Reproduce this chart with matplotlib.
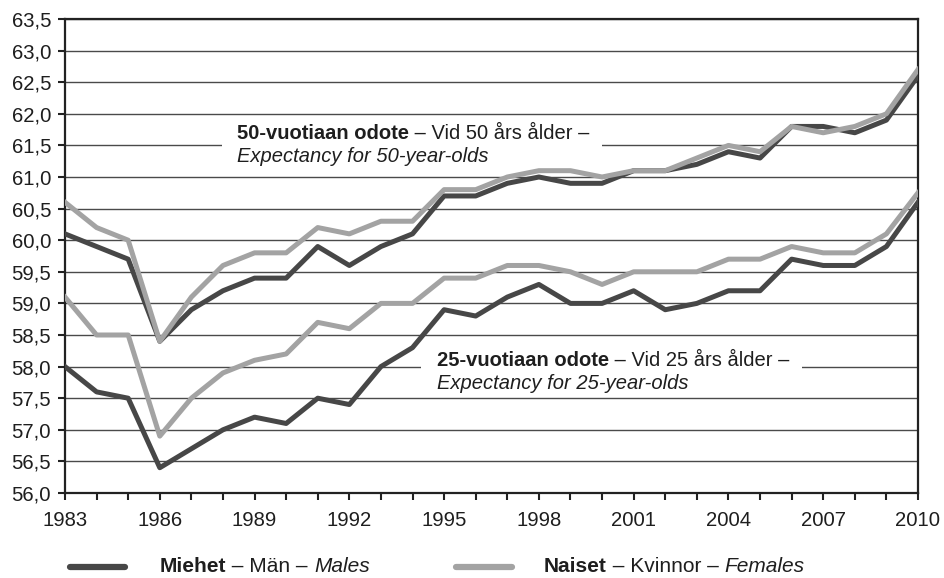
import numpy as np
import matplotlib.pyplot as plt
from matplotlib.patches import Rectangle
from matplotlib.lines import Line2D

plt.rcParams['font.family'] = ['Liberation Sans', 'DejaVu Sans']

years = list(range(1983, 2011))

# life expectancy at age 50 (total years)
male_50 = [60.1, 59.9, 59.7, 58.4, 58.9, 59.2, 59.4, 59.4, 59.9, 59.6,
           59.9, 60.1, 60.7, 60.7, 60.9, 61.0, 60.9, 60.9, 61.1, 61.1,
           61.2, 61.4, 61.3, 61.8, 61.8, 61.7, 61.9, 62.6]
female_50 = [60.6, 60.2, 60.0, 58.4, 59.1, 59.6, 59.8, 59.8, 60.2, 60.1,
             60.3, 60.3, 60.8, 60.8, 61.0, 61.1, 61.1, 61.0, 61.1, 61.1,
             61.3, 61.5, 61.4, 61.8, 61.7, 61.8, 62.0, 62.7]

# life expectancy at age 25 (total years)
male_25 = [58.0, 57.6, 57.5, 56.4, 56.7, 57.0, 57.2, 57.1, 57.5, 57.4,
           58.0, 58.3, 58.9, 58.8, 59.1, 59.3, 59.0, 59.0, 59.2, 58.9,
           59.0, 59.2, 59.2, 59.7, 59.6, 59.6, 59.9, 60.6]
female_25 = [59.1, 58.5, 58.5, 56.9, 57.5, 57.9, 58.1, 58.2, 58.7, 58.6,
             59.0, 59.0, 59.4, 59.4, 59.6, 59.6, 59.5, 59.3, 59.5, 59.5,
             59.5, 59.7, 59.7, 59.9, 59.8, 59.8, 60.1, 60.75]

yticks = np.arange(56.0, 63.51, 0.5)
xlabel_years = list(range(1983, 2011, 3))

DARK = '#474747'
LIGHT = '#a3a3a3'
TXT = '#1e1e1e'
FS = 14.6

fig = plt.figure(figsize=(9.45, 5.78), dpi=100)
ax = fig.add_axes([65 / 945, 85 / 578, 853 / 945, 474 / 578])

ax.plot(years, male_50, color=DARK, lw=3.6, zorder=3)
ax.plot(years, female_50, color=LIGHT, lw=3.6, zorder=4)
ax.plot(years, male_25, color=DARK, lw=3.6, zorder=3)
ax.plot(years, female_25, color=LIGHT, lw=3.6, zorder=4)

ax.set_xlim(1983, 2010)
ax.set_ylim(56.0, 63.5)
ax.set_yticks(yticks)
ax.set_yticklabels([f'{v:.1f}'.replace('.', ',') for v in yticks])
ax.set_xticks(xlabel_years)
ax.set_xticks(years, minor=True)
ax.set_xticklabels([str(y) for y in xlabel_years])
ax.yaxis.grid(True, color='#4a4a4a', lw=1.0)
ax.set_axisbelow(True)
ax.tick_params(axis='both', which='both', direction='out', length=5,
               width=1.5, color='#222222', labelsize=FS, labelcolor=TXT)
ax.tick_params(axis='x', pad=8)
ax.tick_params(axis='y', pad=5)
for s in ax.spines.values():
    s.set_color('#222222')
    s.set_linewidth(1.6)

# white patches behind the annotation text (interrupt the gridlines)
ax.add_patch(Rectangle((1987.97, 61.14), 12.03, 0.73, facecolor='white',
                       edgecolor='none', zorder=1.5))
ax.add_patch(Rectangle((1994.27, 57.56), 12.06, 0.84, facecolor='white',
                       edgecolor='none', zorder=1.5))


def rich_text(x, y, parts, transform, va='baseline', size=14.5):
    t = ax.text(x, y, parts[0][0], transform=transform, va=va, ha='left',
                fontsize=size, color=TXT, **parts[0][1])
    for s, kw in parts[1:]:
        t = ax.annotate(s, xy=(1, 0), xycoords=t, va='bottom', ha='left',
                        fontsize=size, color=TXT, **kw)
    return t


rich_text(1988.44, 61.60, [('50-vuotiaan odote', dict(weight='bold')),
                           (' \u2013 Vid 50 \u00e5rs \u00e5lder \u2013', {})],
          ax.transData)
ax.text(1988.44, 61.24, 'Expectancy for 50-year-olds', style='italic',
        fontsize=14.5, color=TXT, va='baseline')

rich_text(1994.78, 58.01, [('25-vuotiaan odote', dict(weight='bold')),
                           (' \u2013 Vid 25 \u00e5rs \u00e5lder \u2013', {})],
          ax.transData)
ax.text(1994.78, 57.65, 'Expectancy for 25-year-olds', style='italic',
        fontsize=14.5, color=TXT, va='baseline')

# legend drawn by hand (mixed font styles)
ly = 1 - 567 / 578
tb = 1 - 572 / 578
fig.add_artist(Line2D([70 / 945, 125 / 945], [ly, ly], color=DARK, lw=4.5,
                      solid_capstyle='round', transform=fig.transFigure))
fig.add_artist(Line2D([456 / 945, 512 / 945], [ly, ly], color=LIGHT, lw=4.5,
                      solid_capstyle='round', transform=fig.transFigure))
rich_text(160 / 945, tb, [('Miehet', dict(weight='bold')),
                          (' \u2013 M\u00e4n \u2013 ', {}),
                          ('Males', dict(style='italic'))],
          fig.transFigure, size=15)
rich_text(544 / 945, tb, [('Naiset', dict(weight='bold')),
                          (' \u2013 Kvinnor \u2013 ', {}),
                          ('Females', dict(style='italic'))],
          fig.transFigure, size=15)

fig.savefig('out.png', dpi=100)
